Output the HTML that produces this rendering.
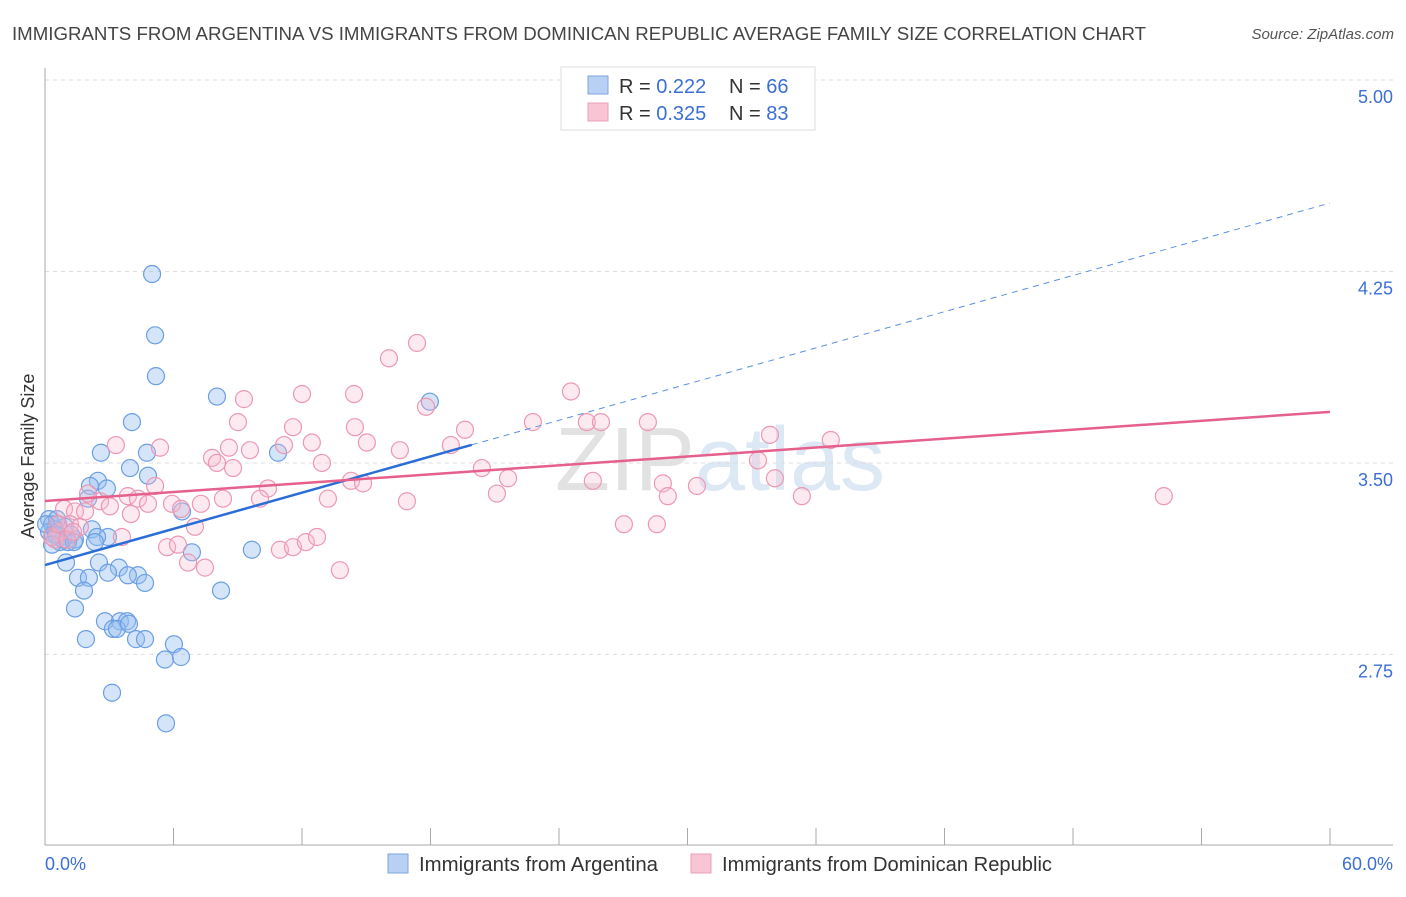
<!DOCTYPE html>
<html><head><meta charset="utf-8">
<style>
body{margin:0;background:#fff;font-family:"Liberation Sans",sans-serif;}
svg text{font-family:"Liberation Sans",sans-serif;}
</style></head>
<body>
<svg id="chart" width="1406" height="892" xmlns="http://www.w3.org/2000/svg">
<text x="12" y="40" font-size="18" fill="#444" textLength="1134" lengthAdjust="spacingAndGlyphs">IMMIGRANTS FROM ARGENTINA VS IMMIGRANTS FROM DOMINICAN REPUBLIC AVERAGE FAMILY SIZE CORRELATION CHART</text>
<text x="1394" y="39" font-size="15" fill="#555" font-style="italic" text-anchor="end">Source: ZipAtlas.com</text>
<text x="720" y="490" font-size="90" fill="#e4e4e4" text-anchor="middle" font-family="Liberation Serif"><tspan fill="#e2e2e2">ZIP</tspan><tspan fill="#dde8f5" font-family="Liberation Sans">atlas</tspan></text>
<g id="grid"></g>
<g id="axes"></g>
<g id="pts"></g>
<g id="lines"></g>
<text transform="translate(34,456) rotate(-90)" font-size="18" fill="#333" text-anchor="middle">Average Family Size</text>
<text x="45" y="870" font-size="18" fill="#3b6fd4">0.0%</text>
<text x="1393" y="870" font-size="18" fill="#3b6fd4" text-anchor="end">60.0%</text>
<g>
<rect x="561" y="67" width="254" height="63" fill="#fff" stroke="#ddd"/>
<rect x="588" y="76" width="20" height="18" fill="#b8d0f4" stroke="#7ea6e0"/>
<rect x="588" y="103" width="20" height="18" fill="#f9c4d4" stroke="#eaa0b8"/>
<text x="619" y="93" font-size="20" fill="#333">R = <tspan fill="#3b6fd4">0.222</tspan></text>
<text x="729" y="93" font-size="20" fill="#333">N = <tspan fill="#3b6fd4">66</tspan></text>
<text x="619" y="120" font-size="20" fill="#333">R = <tspan fill="#3b6fd4">0.325</tspan></text>
<text x="729" y="120" font-size="20" fill="#333">N = <tspan fill="#3b6fd4">83</tspan></text>
</g>
<g>
<rect x="388" y="854" width="20" height="19" fill="#b8d0f4" stroke="#7ea6e0"/>
<text x="419" y="871" font-size="20" fill="#333" textLength="239" lengthAdjust="spacingAndGlyphs">Immigrants from Argentina</text>
<rect x="691" y="854" width="20" height="19" fill="#f9c4d4" stroke="#eaa0b8"/>
<text x="722" y="871" font-size="20" fill="#333" textLength="330" lengthAdjust="spacingAndGlyphs">Immigrants from Dominican Republic</text>
</g>
</svg>
<script>
const yTicks=[5.00,4.25,3.50,2.75];
const xTickPcts=[0,6,12,18,24,30,36,42,48,54,60];
const blueX=[5.0,5.14,5.18,8.03,4.06,17.97,2.61,4.76,10.88,3.97,4.81,2.47,2.10,2.89,2.01,6.40,2.19,0.93,2.94,2.43,1.40,0.70,1.07,2.33,0.19,0.33,0.61,0.47,0.84,9.66,6.86,2.52,0.98,3.45,2.94,4.34,3.87,1.54,2.05,4.67,1.82,8.22,1.40,2.80,3.50,3.83,3.17,3.36,3.92,4.25,4.67,6.02,5.60,6.35,1.91,3.13,5.65,0.19,0.37,0.56,1.21,0.05,0.70,1.35,0.51,0.33];
const blueY=[4.24,4.00,3.84,3.76,3.66,3.74,3.54,3.54,3.54,3.48,3.45,3.43,3.41,3.40,3.36,3.31,3.24,3.25,3.21,3.21,3.20,3.21,3.19,3.19,3.28,3.26,3.26,3.24,3.20,3.16,3.15,3.11,3.11,3.09,3.07,3.06,3.06,3.05,3.05,3.03,3.00,3.00,2.93,2.88,2.88,2.88,2.85,2.85,2.87,2.81,2.81,2.79,2.73,2.74,2.81,2.60,2.48,3.23,3.22,3.28,3.22,3.26,3.19,3.19,3.22,3.18];
const pinkX=[16.06,17.37,24.56,14.43,12.00,9.29,9.01,11.58,14.47,19.61,22.78,25.30,25.96,28.15,33.85,36.69,17.79,16.57,18.95,15.03,12.46,11.16,8.59,7.80,9.57,5.37,3.31,12.93,8.78,8.03,20.40,21.62,25.58,28.85,33.29,34.08,30.44,14.29,14.85,10.41,5.14,3.87,8.31,10.04,13.21,16.90,21.10,29.08,35.34,52.24,4.34,4.81,5.93,6.35,7.28,2.57,3.03,2.01,0.89,1.40,4.01,7.00,3.59,5.70,6.21,10.97,11.58,12.18,12.70,6.68,7.47,13.77,27.03,28.57,0.70,0.47,1.17,1.63,0.33,1.03,0.61,1.31,1.87];
const pinkY=[3.91,3.97,3.78,3.77,3.77,3.75,3.66,3.64,3.64,3.63,3.66,3.66,3.66,3.66,3.61,3.59,3.72,3.55,3.57,3.58,3.58,3.57,3.56,3.52,3.55,3.56,3.57,3.50,3.48,3.50,3.48,3.44,3.43,3.42,3.51,3.44,3.41,3.43,3.42,3.40,3.41,3.37,3.36,3.36,3.36,3.35,3.38,3.37,3.37,3.37,3.36,3.34,3.34,3.32,3.34,3.35,3.33,3.38,3.32,3.31,3.30,3.25,3.21,3.17,3.18,3.16,3.17,3.19,3.21,3.11,3.09,3.08,3.26,3.26,3.23,3.20,3.26,3.25,3.21,3.20,3.26,3.23,3.31];
const blueTrend=[3.10,4.518];
const blueSolidEnd=19.93;
const pinkTrend=[3.351,3.700];

const NS='http://www.w3.org/2000/svg';
const X=p=>45+p*(1285/60);
const Y=v=>80+(5-v)*255.3;
function mk(tag,attrs,parent){const e=document.createElementNS(NS,tag);for(const k in attrs)e.setAttribute(k,attrs[k]);document.getElementById(parent).appendChild(e);return e;}

yTicks.forEach(t=>{
  const l=mk('line',{x1:45,x2:1393,y1:Y(t),y2:Y(t),stroke:'#ddd','stroke-dasharray':'4,4'},'grid');
  
  
  const tx=mk('text',{x:1393,y:Y(t)+23,'font-size':18,fill:'#3b6fd4','text-anchor':'end'},'grid');
  tx.textContent=t.toFixed(2);
  
  
});
const ya=mk('line',{x1:45,x2:45,y1:68,y2:845,stroke:'#aaa'},'axes');


const xa=mk('line',{x1:45,x2:1393,y1:845,y2:845,stroke:'#aaa'},'axes');


xTickPcts.forEach(p=>{
  const t=mk('line',{x1:X(p),x2:X(p),y1:828,y2:845,stroke:'#aaa'},'axes');
  
  
});
blueX.forEach((x,i)=>{
  const c=mk('circle',{cx:X(x),cy:Y(blueY[i]),r:8.5,fill:'rgba(150,190,240,0.4)',stroke:'#6b9fe3','stroke-width':1.2},'pts');
  
  
});
pinkX.forEach((x,i)=>{
  const c=mk('circle',{cx:X(x),cy:Y(pinkY[i]),r:8.5,fill:'rgba(248,185,205,0.3)',stroke:'#ec98b4','stroke-width':1.2},'pts');
  
  
});
const bAt=p=>blueTrend[0]+(blueTrend[1]-blueTrend[0])*p/60;
const b1=mk('line',{x1:X(0),y1:Y(bAt(0)),x2:X(blueSolidEnd),y2:Y(bAt(blueSolidEnd)),stroke:'#2b6dd6','stroke-width':2.5},'lines');


const b2=mk('line',{x1:X(blueSolidEnd),y1:Y(bAt(blueSolidEnd)),x2:X(60),y2:Y(bAt(60)),stroke:'#5b8fe0','stroke-width':1,'stroke-dasharray':'6,5'},'lines');


const p1=mk('line',{x1:X(0),y1:Y(pinkTrend[0]),x2:X(60),y2:Y(pinkTrend[1]),stroke:'#e5608a','stroke-width':2.5},'lines');


</script>
</body></html>
